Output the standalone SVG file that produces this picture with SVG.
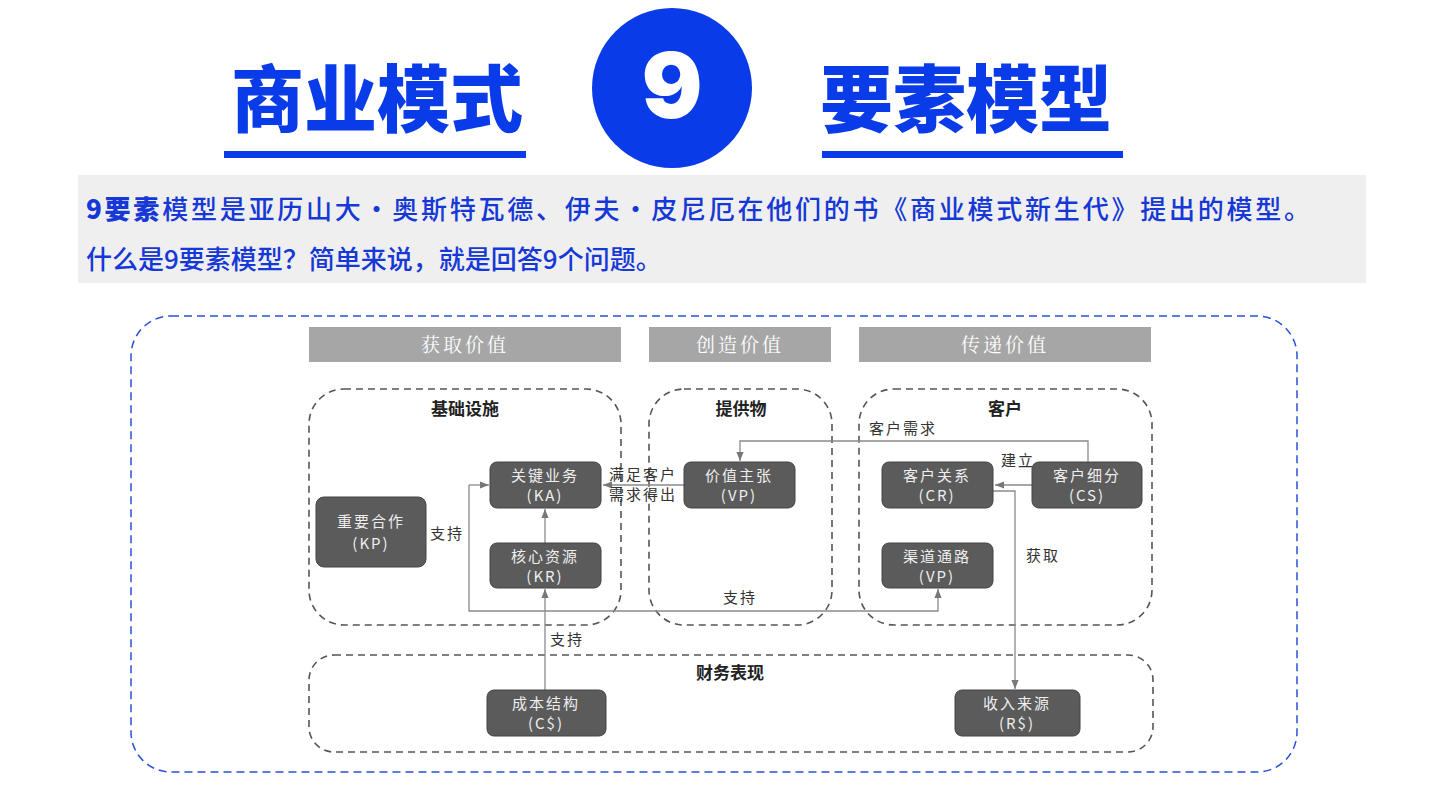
<svg xmlns="http://www.w3.org/2000/svg" width="1440" height="807" viewBox="0 0 1440 807">
<style>
.t{font-family:"Noto Sans CJK SC","Noto Sans",sans-serif;font-weight:900;fill:#0a3be8}
.d{font-family:"Noto Sans CJK SC",sans-serif;font-size:26px;font-weight:500;fill:#1538d6}
.hd{fill:#a6a6a6}
.ht{font-family:"Noto Serif CJK SC","Noto Sans CJK SC",serif;font-size:19px;fill:#fff;text-anchor:middle;letter-spacing:3px}
.grp{fill:none;stroke:#555;stroke-width:1.6;stroke-dasharray:7 5}
.gt{font-family:"Noto Sans CJK SC",sans-serif;font-size:17px;font-weight:bold;fill:#222;text-anchor:middle}
.n{fill:#5b5b5b;stroke:#444;stroke-width:1}
.nt{font-family:"Noto Sans CJK SC",sans-serif;font-size:15px;fill:#eee;text-anchor:middle;letter-spacing:2px}
.c{fill:none;stroke:#8a8a8a;stroke-width:1.3}
.lb{font-family:"Noto Sans CJK SC",sans-serif;font-size:15px;fill:#333;text-anchor:middle;letter-spacing:2px}
</style>
<defs><marker id="a" viewBox="0 0 10 10" refX="10" refY="5" markerWidth="7" markerHeight="7" orient="auto"><path d="M0 1L10 5L0 9z" fill="#777"/></marker></defs>
<rect width="1440" height="807" fill="#fff"/>
<g id="title">
<text class="t" x="377" y="126" font-size="73" text-anchor="middle">商业模式</text>
<rect x="224" y="151" width="302" height="7" fill="#0a3be8"/>
<circle cx="672" cy="88" r="80" fill="#0a3be8"/>
<text x="672" y="118" font-family="Inter,'Noto Sans',sans-serif" font-weight="900" font-size="90" fill="#fff" text-anchor="middle">9</text>
<text class="t" x="966" y="126" font-size="73" text-anchor="middle">要素模型</text>
<rect x="822" y="151" width="301" height="7" fill="#0a3be8"/>
</g>
<g id="desc">
<rect x="78" y="175" width="1288" height="108" fill="#efefef"/>
<text class="d" x="86" y="219" textLength="1224"><tspan font-weight="900">9要素</tspan>模型是亚历山大·奥斯特瓦德、伊夫·皮尼厄在他们的书《商业模式新生代》提出的模型。</text>
<text class="d" x="86" y="269">什么是9要素模型？简单来说，就是回答9个问题。</text>
</g>
<rect x="131" y="316" width="1166" height="456" rx="40" fill="none" stroke="#2a50d8" stroke-width="1.5" stroke-dasharray="8 5"/>
<g id="headers">
<rect class="hd" x="309" y="327" width="312" height="35"/><text class="ht" x="465" y="352">获取价值</text>
<rect class="hd" x="649" y="327" width="182" height="35"/><text class="ht" x="740" y="352">创造价值</text>
<rect class="hd" x="859" y="327" width="292" height="35"/><text class="ht" x="1005" y="352">传递价值</text>
</g>
<g id="groups">
<rect class="grp" x="309" y="389" width="312" height="236" rx="35"/><text class="gt" x="465" y="415">基础设施</text>
<rect class="grp" x="649" y="389" width="183" height="236" rx="35"/><text class="gt" x="741" y="415">提供物</text>
<rect class="grp" x="859" y="389" width="293" height="236" rx="35"/><text class="gt" x="1005" y="415">客户</text>
<rect class="grp" x="309" y="655" width="844" height="97" rx="25"/><text class="gt" x="730" y="679">财务表现</text>
</g>
<g id="connectors">
<path class="c" d="M545 543V509" marker-end="url(#a)"/>
<path class="c" d="M545 690V589" marker-end="url(#a)"/>
<path class="c" d="M469 485V611H938V589" marker-end="url(#a)"/>
<path class="c" d="M469 485H489" marker-end="url(#a)"/>
<path class="c" d="M684 485H603" marker-end="url(#a)"/>
<path class="c" d="M1088 462V441H740V461" marker-end="url(#a)"/>
<path class="c" d="M1032 485H995" marker-end="url(#a)"/>
<path class="c" d="M993 491H1015V689" marker-end="url(#a)"/>
<text class="lb" x="447" y="539">支持</text>
<text class="lb" x="567" y="645">支持</text>
<text class="lb" x="740" y="603">支持</text>
<text class="lb" x="643" y="480">满足客户</text>
<text class="lb" x="643" y="500">需求得出</text>
<text class="lb" x="903" y="434">客户需求</text>
<text class="lb" x="1018" y="466">建立</text>
<text class="lb" x="1043" y="561">获取</text>
</g>
<g id="KP"><rect class="n" x="316" y="497" width="110" height="70" rx="8"/><text class="nt" x="371" y="527">重要合作</text><text class="nt" x="371" y="549">(KP)</text></g>
<g id="KA"><rect class="n" x="490" y="462" width="111" height="46" rx="7"/><text class="nt" x="545" y="481">关键业务</text><text class="nt" x="545" y="501">(KA)</text></g>
<g id="KR"><rect class="n" x="490" y="543" width="111" height="45" rx="7"/><text class="nt" x="545" y="562">核心资源</text><text class="nt" x="545" y="582">(KR)</text></g>
<g id="VP"><rect class="n" x="684" y="462" width="111" height="46" rx="7"/><text class="nt" x="739" y="481">价值主张</text><text class="nt" x="739" y="501">(VP)</text></g>
<g id="CR"><rect class="n" x="882" y="462" width="111" height="46" rx="7"/><text class="nt" x="937" y="481">客户关系</text><text class="nt" x="937" y="501">(CR)</text></g>
<g id="CS"><rect class="n" x="1032" y="462" width="110" height="46" rx="7"/><text class="nt" x="1087" y="481">客户细分</text><text class="nt" x="1087" y="501">(CS)</text></g>
<g id="CH"><rect class="n" x="882" y="543" width="111" height="45" rx="7"/><text class="nt" x="937" y="562">渠道通路</text><text class="nt" x="937" y="582">(VP)</text></g>
<g id="CSt"><rect class="n" x="487" y="690" width="119" height="46" rx="7"/><text class="nt" x="546" y="709">成本结构</text><text class="nt" x="546" y="729">(C$)</text></g>
<g id="RS"><rect class="n" x="955" y="690" width="125" height="46" rx="7"/><text class="nt" x="1017" y="709">收入来源</text><text class="nt" x="1017" y="729">(R$)</text></g>
</svg>
